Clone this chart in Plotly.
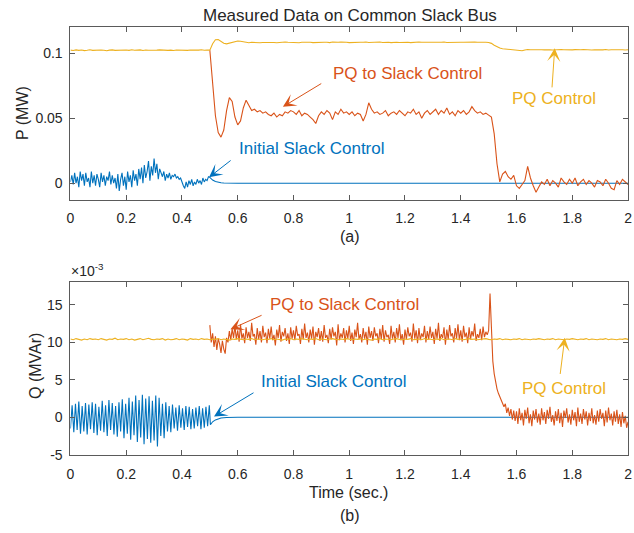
import numpy as np
import plotly.graph_objects as go

BLUE = "#0072BD"
ORANGE = "#D95319"
YELLOW = "#EDB120"
FONT = "Liberation Sans, Arial, sans-serif"
INK = "#262626"

# ---------------- Active power P (values in kW, plotted in MW) ----------------
# Initial Slack Control: 0 - 0.495 s, 5 ms sampling
p_slack_noise = [
    1, 6, -1, 8, 0, 5, -3, 9, 2, 7,
    -2, 8, 1, 4, -3, 9, 0, 6, -2, 7,
    3, -3, 8, 1, 6, -2, 5, 2, 9, -1,
    6, 0, 4, -4, 7, -6, 3, 8, -2, 5,
    -5, 9, 1, 6, -3, 10, 2, 7, -2, 11,
    3, 12, 0, 14, 4, 9, 17, 2, 13, 6,
    19, 8, 15, 3, 11, 7, 5, 9, 2, 7,
    4, 8, 3, 6, 5, 7, 4, 5, 3, 4,
    0, -2, -4, 1, -3, 2, -1, 3, -2, 1,
    -1, 3, 0, 2, -1, 4, 1, 3, 2, 5,
]
# settling of the slack unit once it is released (time s, kW)
p_slack_tail_t = [0.5, 0.505, 0.51, 0.52, 0.53, 0.54, 0.55, 0.57, 0.6, 2.0]
p_slack_tail = [4.5, 3.3, 2.4, 1.3, 0.7, 0.35, 0.18, 0.05, 0.0, 0.0]

# PQ to Slack Control: 0.50 - 2.00 s, 10 ms sampling
p_pq2slack = [
    102.5, 78, 52, 39, 35.5, 41, 56, 66, 63, 51,
    45, 48, 58, 64, 60, 56, 57, 55, 56, 54,
    55, 53, 52, 54, 51, 53, 52, 55, 54, 56,
    55, 53, 56, 52, 54, 53, 51, 49, 46, 52,
    55, 53, 56, 54, 49, 55, 53, 57, 54, 55,
    53, 55, 52, 54, 53, 48, 53, 62, 57, 54,
    55, 53, 54, 56, 52, 54, 55, 53, 56, 54,
    52, 55, 54, 57, 53, 55, 50, 54, 56, 53,
    55, 57, 53, 56, 54, 58, 53, 55, 52, 56,
    54, 56, 53, 55, 59, 56, 54, 55, 53, 54,
    52.5, 51, 38, 15, 1, 7, 9, 5, 3, 6,
    -2, -4, -1, 2, 13, 4, -2, -7, -3, 1,
    -1, 3, -2, 2, 0, -3, 4, 1, -1, 3,
    0, 4, -2, 1, 3, -1, 2, 0, -3, 2,
    1, -2, 3, 0, -4, -5, 2, -1, 3, 1,
    -1,
]

# PQ Control: 0 - 2.00 s, 10 ms sampling
p_pq = [
    102.6, 102.3, 102.8, 102.4, 102.7, 102.2, 102.5, 102.9, 102.4, 102.6,
    102.3, 102.7, 102.5, 102.1, 102.6, 102.8, 102.4, 102.6, 102.3, 102.5,
    102.7, 102.4, 102.9, 102.5, 102.6, 102.8, 102.3, 102.7, 102.5, 102.4,
    102.2, 102.6, 102.8, 102.5, 102.7, 102.4, 102.6, 102.3, 102.7, 102.5,
    102.8, 102.6, 102.4, 102.7, 102.5, 102.8, 102.6, 102.9, 102.5, 102.7,
    102.6, 107.5, 110.6, 110.8, 109.4, 107.9, 107.4, 107.9, 108.6, 109.3,
    109.6, 109.4, 108.9, 108.5, 108.3, 108.6, 108.4, 108.7, 108.3, 108.5,
    108.6, 108.4, 108.8, 108.5, 108.3, 108.7, 108.5, 108.9, 108.6, 108.4,
    108.7, 108.5, 108.3, 108.6, 108.8, 108.5, 108.7, 108.4, 108.6, 108.8,
    108.5, 108.7, 108.6, 108.4, 108.8, 108.5, 108.6, 108.9, 108.5, 108.7,
    108.4, 108.6, 108.8, 108.5, 108.7, 108.6, 108.9, 108.5, 108.7, 108.4,
    108.6, 108.8, 108.5, 108.7, 108.6, 108.4, 108.8, 108.6, 108.5, 108.7,
    108.9, 108.6, 108.4, 108.7, 108.5, 108.8, 108.6, 108.7, 108.5, 108.6,
    108.8, 108.5, 108.7, 108.6, 108.9, 108.5, 108.6, 108.8, 108.7, 108.5,
    108.7, 108.6, 108.8, 108.5, 108.7, 108.9, 108.6, 108.8, 108.7, 108.6,
    108.5, 107.8, 106.3, 105.0, 104.2, 103.7, 103.4, 103.1, 103.0, 102.8,
    102.4, 101.9, 102.1, 102.7, 103.1, 102.9, 103.0, 102.7, 103.1, 102.9,
    102.8, 103.1, 102.9, 102.7, 103.0, 102.8, 103.1, 102.9, 102.7, 103.0,
    102.8, 103.0, 102.7, 102.9, 103.1, 102.8, 103.0, 102.7, 102.9, 102.8,
    103.0, 102.8, 103.1, 102.7, 102.9, 103.0, 102.8, 103.1, 102.9, 102.7,
    102.9,
]

# ---------------- Reactive power Q (values in 1e-3 MVAr) ----------------
# Initial Slack Control: 0 - 0.498 s, 6 ms sampling
q_slack_noise = [
    -1.5, 1.6, -2.0, 1.8, -1.7, 2.1, -2.2, 1.5, -1.9, 1.9, -2.3, 1.7, -1.6, 2.0,
    -2.1, 1.8, -2.4, 1.4, -1.8, 2.2, -2.0, 1.6, -2.5, 2.3, -1.7, 1.9, -2.3, 1.5,
    -2.6, 2.0, -1.9, 2.4, -2.8, 1.8, -2.2, 2.6, -3.0, 2.1, -2.4, 2.9, -3.3, 2.3,
    -2.7, 3.0, -3.6, 2.5, -2.9, 2.8, -3.4, 2.2, -3.1, 2.9, -3.9, 2.6, -2.5, 1.8,
    -2.8, 2.0, -1.9, 1.5, -2.0, 1.7, -1.5, 1.3, -1.8, 1.6, -1.4, 1.2, -1.7, 1.5,
    -1.3, 1.4, -1.6, 1.1, -1.5, 1.3, -1.2, 1.5, -1.6, 1.2, -1.4, 1.4, -1.2, 1.6,
]
q_slack_tail_t = [0.502, 0.51, 0.52, 0.53, 0.54, 0.56, 0.6, 2.0]
q_slack_tail = [-1.0, -0.6, -0.35, -0.2, -0.1, -0.03, 0.0, 0.0]

# PQ to Slack Control: 0.50 - 2.00 s, 5 ms sampling
q_pq2slack = [
    12.3, 10.0, 11.2, 9.4, 10.8, 9.0, 10.5, 9.8, 8.6, 10.2, 9.1, 8.5, 10.6, 10.0, 11.5, 10.3, 11.8, 10.6, 12.2, 10.4,
    11.6, 10.1, 12.4, 10.5, 11.2, 9.9, 12.0, 10.6, 11.4, 10.2, 12.6, 10.8, 11.1, 9.7, 11.9, 10.4, 11.5, 10.0, 12.2, 10.7,
    11.3, 9.9, 11.8, 10.5, 12.1, 10.3, 11.0, 9.6, 11.7, 10.6, 12.3, 10.1, 11.4, 10.8, 11.9, 10.2, 11.2, 9.8, 12.0, 10.5,
    11.6, 10.3, 12.2, 10.9, 11.1, 9.8, 11.8, 10.4, 12.5, 10.6, 11.3, 10.0, 11.7, 10.5, 12.1, 9.7, 11.4, 10.7, 11.9, 10.2,
    11.5, 10.1, 12.3, 10.6, 11.0, 9.9, 11.8, 10.4, 12.0, 10.8, 11.4, 9.6, 12.4, 10.3, 11.2, 10.6, 11.9, 10.0, 11.6, 10.5,
    12.2, 10.2, 11.3, 9.8, 11.7, 10.7, 12.6, 10.4, 11.1, 10.0, 11.9, 10.5, 11.4, 9.7, 12.1, 10.6, 11.5, 10.2, 12.0, 10.8,
    11.2, 9.9, 11.8, 10.4, 12.3, 10.1, 11.6, 10.7, 11.0, 9.8, 12.2, 10.5, 11.4, 10.0, 11.9, 10.6, 12.4, 10.3, 11.1, 9.7,
    11.7, 10.4, 12.0, 10.8, 11.3, 10.1, 12.5, 10.5, 11.6, 9.9, 11.9, 10.3, 11.2, 10.7, 12.2, 10.0, 11.5, 10.4, 12.1, 10.6,
    11.4, 9.8, 11.8, 10.5, 12.6, 10.2, 11.1, 10.6, 12.0, 9.7, 11.7, 10.4, 12.3, 10.8, 11.2, 10.0, 11.9, 10.5, 12.4, 10.3,
    11.6, 10.1, 12.2, 10.7, 11.3, 9.9, 12.0, 10.4, 11.5, 10.8, 12.5, 10.2, 11.1, 10.6, 11.8, 10.3, 12.1, 10.7, 11.4, 11.0,
    11.6, 16.5, 12.0, 7.5, 5.8, 4.6, 3.8, 3.2, 2.7, 2.3, 1.9, 1.4, 1.8, 0.6, 1.3, 0.2, 1.1, -0.3, 0.9, -0.5,
    0.8, -0.9, 1.2, -0.4, 0.6, -1.1, 1.0, -0.2, 1.3, -0.8, 0.4, -1.2, 0.9, -0.3, 1.1, -0.7, 0.5, -1.0, 1.2, -0.4,
    0.7, -0.9, 1.0, -0.2, 1.4, -0.6, 0.3, -1.1, 0.8, -0.5, 1.1, -0.8, 0.6, -1.3, 0.9, -0.1, 1.2, -0.7, 0.4, -1.0,
    1.0, -0.4, 0.7, -1.2, 1.3, -0.6, 0.5, -0.9, 1.1, -0.3, 0.8, -1.1, 0.6, -0.5, 1.2, -0.8, 0.3, -1.0, 0.9, -0.6,
    1.1, -0.2, 0.6, -1.2, 0.9, -0.7, 1.3, -0.4, 0.5, -1.1, 0.8, -0.6, 1.0, -0.9, 0.4, -1.3, 0.7, -0.8, 0.2, -1.4,
    -0.6,
]

# PQ Control: 0 - 2.00 s, 10 ms sampling
q_pq = [
    10.45, 10.35, 10.5, 10.4, 10.3, 10.45, 10.35, 10.5, 10.4, 10.45,
    10.35, 10.5, 10.4, 10.3, 10.45, 10.4, 10.55, 10.35, 10.45, 10.4,
    10.5, 10.35, 10.45, 10.3, 10.4, 10.5, 10.35, 10.45, 10.55, 10.4,
    10.35, 10.45, 10.4, 10.5, 10.3, 10.45, 10.35, 10.4, 10.5, 10.35,
    10.45, 10.4, 10.3, 10.5, 10.4, 10.45, 10.35, 10.5, 10.4, 10.45,
    10.35, 10.45, 10.4, 10.5, 10.35, 10.45, 10.4, 10.3, 10.45, 10.4,
    10.5, 10.4, 10.35, 10.45, 10.4, 10.5, 10.35, 10.45, 10.4, 10.35,
    10.45, 10.4, 10.5, 10.35, 10.45, 10.4, 10.3, 10.45, 10.4, 10.5,
    10.35, 10.45, 10.4, 10.5, 10.4, 10.35, 10.45, 10.4, 10.5, 10.35,
    10.45, 10.4, 10.35, 10.45, 10.5, 10.4, 10.35, 10.45, 10.4, 10.5,
    10.4, 10.35, 10.45, 10.4, 10.5, 10.35, 10.45, 10.4, 10.3, 10.45,
    10.4, 10.5, 10.35, 10.45, 10.4, 10.35, 10.45, 10.5, 10.4, 10.35,
    10.45, 10.4, 10.5, 10.35, 10.4, 10.45, 10.35, 10.5, 10.4, 10.45,
    10.35, 10.45, 10.4, 10.5, 10.35, 10.4, 10.45, 10.35, 10.5, 10.4,
    10.45, 10.35, 10.4, 10.5, 10.4, 10.45, 10.35, 10.4, 10.45, 10.5,
    10.4, 10.35, 10.45, 10.4, 10.5, 10.35, 10.45, 10.4, 10.35, 10.45,
    10.4, 10.5, 10.35, 10.45, 10.4, 10.35, 10.45, 10.4, 10.5, 10.4,
    10.35, 10.45, 10.4, 10.5, 10.35, 10.45, 10.4, 10.35, 10.45, 10.4,
    10.5, 10.4, 10.35, 10.45, 10.4, 10.5, 10.35, 10.45, 10.4, 10.35,
    10.45, 10.4, 10.5, 10.35, 10.45, 10.4, 10.35, 10.45, 10.4, 10.5,
    10.4,
]

x_ticks = [0, 0.2, 0.4, 0.6, 0.8, 1, 1.2, 1.4, 1.6, 1.8, 2]
p_ticks = [0, 0.05, 0.1]
q_ticks = [-5, 0, 5, 10, 15]


def sample_times(values, t0, dt):
    return np.round(t0 + dt * np.arange(len(values)), 4)


def kw_to_mw(values):
    return np.asarray(values, dtype=float) / 1000.0


fig = go.Figure()

# --- P subplot (x, y) ---
t_ps = np.concatenate([sample_times(p_slack_noise, 0.0, 0.005), p_slack_tail_t])
fig.add_trace(go.Scatter(x=t_ps, y=kw_to_mw(p_slack_noise + p_slack_tail),
                         mode="lines", line=dict(color=BLUE, width=1.1),
                         xaxis="x", yaxis="y", showlegend=False))
fig.add_trace(go.Scatter(x=sample_times(p_pq2slack, 0.5, 0.01), y=kw_to_mw(p_pq2slack),
                         mode="lines", line=dict(color=ORANGE, width=1.1),
                         xaxis="x", yaxis="y", showlegend=False))
fig.add_trace(go.Scatter(x=sample_times(p_pq, 0.0, 0.01), y=kw_to_mw(p_pq),
                         mode="lines", line=dict(color=YELLOW, width=1.1),
                         xaxis="x", yaxis="y", showlegend=False))

# --- Q subplot (x2, y2), plotted in units of 1e-3 MVAr ---
t_qs = np.concatenate([sample_times(q_slack_noise, 0.0, 0.006), q_slack_tail_t])
fig.add_trace(go.Scatter(x=t_qs, y=q_slack_noise + q_slack_tail,
                         mode="lines", line=dict(color=BLUE, width=1.1),
                         xaxis="x2", yaxis="y2", showlegend=False))
fig.add_trace(go.Scatter(x=sample_times(q_pq2slack, 0.5, 0.005), y=q_pq2slack,
                         mode="lines", line=dict(color=ORANGE, width=1.1),
                         xaxis="x2", yaxis="y2", showlegend=False))
fig.add_trace(go.Scatter(x=sample_times(q_pq, 0.0, 0.01), y=q_pq,
                         mode="lines", line=dict(color=YELLOW, width=1.1),
                         xaxis="x2", yaxis="y2", showlegend=False))

W, H = 634, 533
X_DOM = [67.3 / W, 632 / W]
axis_style = dict(showline=True, linecolor="#5a5a5a", linewidth=1, mirror="ticks",
                  ticks="inside", ticklen=5, tickcolor="#5a5a5a", tickwidth=1,
                  showgrid=False, zeroline=False, ticklabeloverflow="allow",
                  tickfont=dict(family=FONT, size=14, color=INK))

fig.update_layout(
    width=W, height=H,
    margin=dict(l=0, r=0, t=0, b=0),
    paper_bgcolor="white", plot_bgcolor="white",
    font=dict(family=FONT, color=INK),
    xaxis=dict(domain=X_DOM, range=[0, 2], tickvals=x_ticks,
               ticktext=[f"{v:g}" for v in x_ticks], anchor="y",
               ticklabelstandoff=6, **axis_style),
    yaxis=dict(domain=[1 - 202.7 / H, 1 - 27.3 / H], range=[-0.0127, 0.1205],
               tickvals=p_ticks, ticktext=[f"{v:g}" for v in p_ticks], anchor="x",
               ticklabelstandoff=4, **axis_style),
    xaxis2=dict(domain=X_DOM, range=[0, 2], tickvals=x_ticks,
                ticktext=[f"{v:g}" for v in x_ticks], anchor="y2",
                ticklabelstandoff=6, **axis_style),
    yaxis2=dict(domain=[1 - 461.7 / H, 1 - 286.7 / H], range=[-5, 18],
                tickvals=q_ticks, ticktext=[f"{v:g}" for v in q_ticks], anchor="x2",
                ticklabelstandoff=4, **axis_style),
)


def px_x(px):
    return px / W


def px_y(py):
    return 1 - py / H


# titles and axis labels
texts = [
    ("Measured Data on Common Slack Bus", 350, 16, 17, 0),
    ("P (MW)", 19, 115, 16, -90),
    ("(a)", 350, 240, 16, 0),
    ("Q (MVAr)", 32, 372, 16, -90),
    ("Time (sec.)", 349, 500, 16, 0),
    ("(b)", 350, 523, 16, 0),
]
for txt, px, py, size, ang in texts:
    fig.add_annotation(text=txt, x=px_x(px), y=px_y(py), xref="paper", yref="paper",
                       xanchor="center", yanchor="middle", showarrow=False,
                       textangle=ang, font=dict(family=FONT, size=size, color=INK))

fig.add_annotation(text="\u00d710<sup>-3</sup>", x=px_x(66), y=px_y(285), xref="paper", yref="paper",
                   xanchor="left", yanchor="bottom", showarrow=False,
                   font=dict(family=FONT, size=14, color=INK))

# series labels with arrows: (text, colour, axes, text pos, arrow head, arrow tail)
labels = [
    ("PQ to Slack Control", ORANGE, ("x", "y"), (1.209, 0.0848), (0.762, 0.0589), (0.905, 0.0775)),
    ("PQ Control", YELLOW, ("x", "y"), (1.733, 0.0652), (1.737, 0.1040), (1.727, 0.0727)),
    ("Initial Slack Control", BLUE, ("x", "y"), (0.867, 0.0265), (0.497, 0.0045), (0.58, 0.0184)),
    ("PQ to Slack Control", ORANGE, ("x2", "y2"), (0.983, 15.04), (0.574, 11.74), (0.691, 13.7)),
    ("PQ Control", YELLOW, ("x2", "y2"), (1.77, 3.83), (1.773, 10.6), (1.756, 5.58)),
    ("Initial Slack Control", BLUE, ("x2", "y2"), (0.944, 4.75), (0.515, 0.1), (0.662, 3.39)),
]
for txt, col, (xr, yr), tpos, head, tail in labels:
    fig.add_annotation(text=txt, x=tpos[0], y=tpos[1], xref=xr, yref=yr,
                       xanchor="center", yanchor="middle", showarrow=False,
                       font=dict(family=FONT, size=17, color=col))
    fig.add_annotation(text="", x=head[0], y=head[1], xref=xr, yref=yr,
                       ax=tail[0], ay=tail[1], axref=xr, ayref=yr,
                       showarrow=True, arrowhead=3, arrowsize=2.2, arrowwidth=1,
                       arrowcolor=col, standoff=0)

fig.write_html("out.html")
